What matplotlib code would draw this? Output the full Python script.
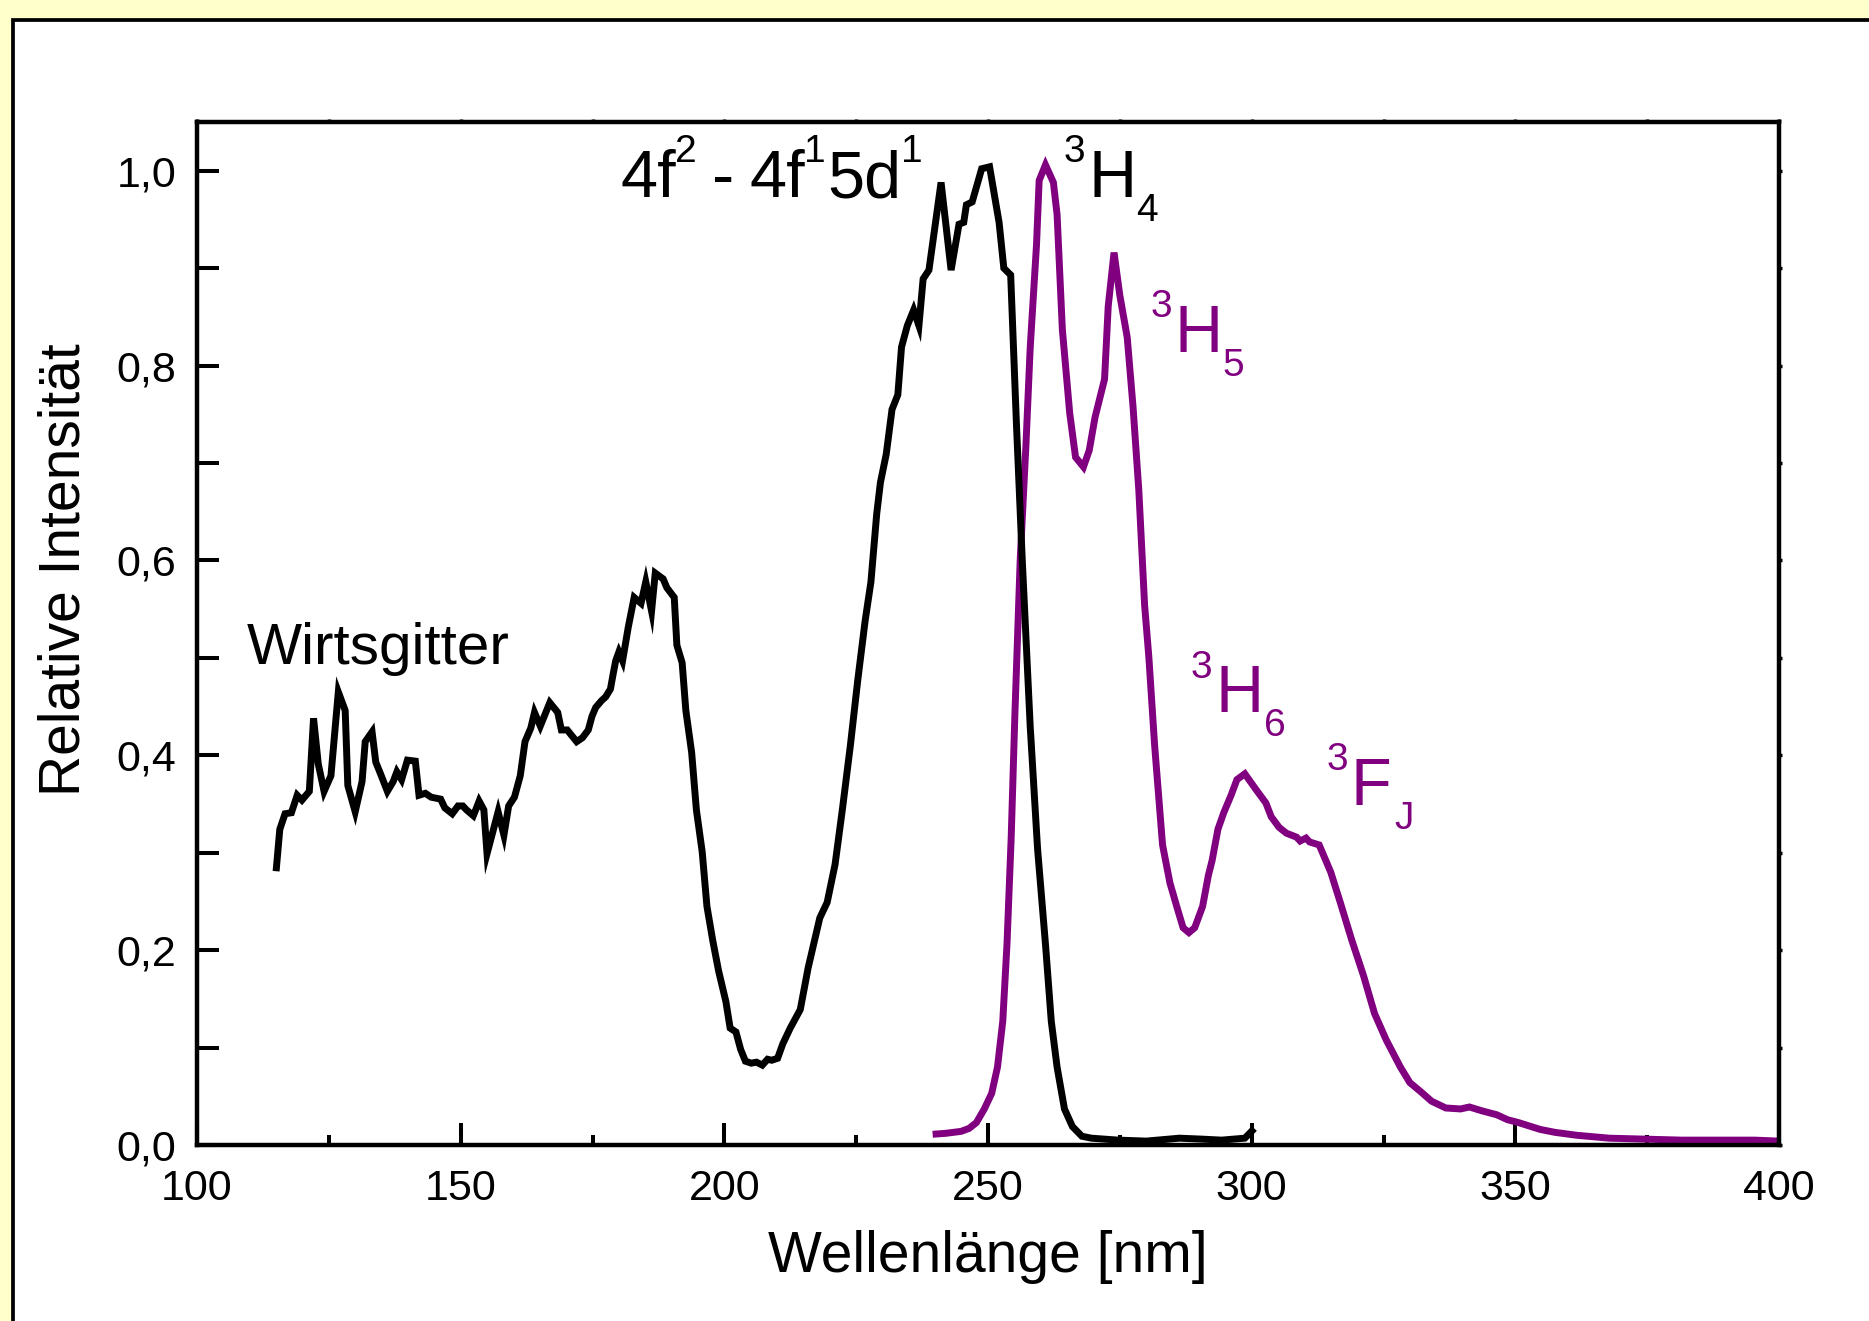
import matplotlib
matplotlib.use("Agg")
import matplotlib.pyplot as plt
from matplotlib import transforms as mtransforms
from matplotlib.patches import Rectangle
from matplotlib.ticker import FixedLocator, FuncFormatter

plt.rcParams['font.family'] = ['Liberation Sans', 'DejaVu Sans']

# ---------------- data ----------------
black_nm = [115.0, 115.7, 116.7, 117.9, 119.0, 119.9, 121.3, 122.1, 123.0, 124.1,
            125.4, 126.8, 128.1, 128.6, 130.0, 131.3, 131.9, 133.2, 133.9, 134.8,
            136.1, 137.2, 137.9, 138.8, 139.9, 141.4, 142.1, 143.3, 144.4, 146.2,
            147.0, 148.4, 149.5, 150.4, 151.1, 152.4, 153.0, 153.5, 154.4, 155.0,
            156.8, 157.1, 158.2, 159.1, 160.2, 161.3, 162.2, 163.3, 164.0, 165.1,
            166.9, 168.4, 169.1, 170.2, 172.0, 173.1, 174.2, 174.9, 175.6, 176.7,
            177.5, 178.4, 178.9, 179.4, 180.0, 180.7, 181.8, 182.9, 184.2, 185.1,
            186.2, 186.9, 188.4, 189.1, 190.5, 191.0, 192.0, 192.7, 193.8, 194.7,
            195.8, 196.7, 197.8, 198.9, 200.3, 201.1, 202.2, 203.1, 204.0, 205.1,
            206.1, 207.2, 208.2, 209.0, 210.1, 211.1, 212.5, 214.4, 215.9, 218.1,
            219.5, 221.0, 222.4, 223.9, 225.3, 226.7, 227.8, 228.9, 229.6, 230.7,
            231.8, 232.9, 233.6, 234.7, 235.9, 236.9, 237.7, 238.8, 241.1, 243.0,
            244.5, 245.4, 245.9, 247.0, 248.8, 250.3, 252.1, 253.0, 254.3, 255.4,
            256.5, 258.0, 259.4, 260.9, 262.0, 263.1, 264.5, 266.0, 267.8, 269.6,
            274.7, 280.0, 286.3, 290.7, 294.3, 298.7, 299.8, 300.5]
black_int = [0.281, 0.324, 0.340, 0.341, 0.359, 0.354, 0.363, 0.438, 0.391, 0.363,
             0.379, 0.465, 0.446, 0.369, 0.342, 0.373, 0.414, 0.424, 0.393, 0.381,
             0.363, 0.373, 0.383, 0.375, 0.395, 0.394, 0.359, 0.361, 0.357, 0.355,
             0.346, 0.340, 0.348, 0.348, 0.344, 0.338, 0.346, 0.353, 0.344, 0.299,
             0.336, 0.342, 0.318, 0.348, 0.357, 0.379, 0.414, 0.428, 0.444, 0.430,
             0.454, 0.444, 0.426, 0.426, 0.414, 0.418, 0.426, 0.440, 0.449, 0.456,
             0.460, 0.468, 0.483, 0.497, 0.506, 0.497, 0.532, 0.562, 0.556, 0.578,
             0.548, 0.587, 0.581, 0.572, 0.562, 0.513, 0.495, 0.446, 0.403, 0.344,
             0.301, 0.245, 0.210, 0.179, 0.147, 0.120, 0.116, 0.098, 0.086, 0.084,
             0.085, 0.082, 0.088, 0.087, 0.089, 0.104, 0.120, 0.139, 0.182, 0.233,
             0.249, 0.288, 0.345, 0.410, 0.477, 0.538, 0.578, 0.648, 0.680, 0.709,
             0.755, 0.770, 0.819, 0.841, 0.857, 0.841, 0.889, 0.898, 0.988, 0.898,
             0.945, 0.947, 0.965, 0.968, 1.002, 1.004, 0.947, 0.900, 0.893, 0.739,
             0.600, 0.430, 0.304, 0.206, 0.127, 0.080, 0.037, 0.019, 0.009, 0.007,
             0.005, 0.004, 0.007, 0.006, 0.005, 0.007, 0.013, 0.017]

purple_nm = [239.5, 242.0, 244.9, 246.4, 247.8, 249.3, 250.7, 251.8, 252.8, 253.6,
             254.4, 255.1, 256.1, 257.2, 258.0, 259.2, 259.7, 260.9, 262.4, 263.1,
             264.1, 265.5, 266.6, 268.1, 269.2, 270.3, 272.1, 272.8, 273.9, 275.0,
             276.4, 277.5, 278.6, 279.7, 280.5, 281.6, 283.1, 284.5, 286.0, 287.0,
             288.1, 289.2, 290.7, 291.8, 292.5, 293.6, 294.7, 296.1, 297.2, 298.7,
             300.8, 302.7, 303.7, 305.2, 306.6, 308.5, 309.2, 310.3, 311.0, 312.8,
             315.0, 316.8, 319.0, 321.2, 323.3, 325.5, 328.2, 330.0, 332.0, 334.1,
             336.8, 339.6, 341.3, 343.7, 346.5, 348.5, 350.6, 354.7, 357.5, 361.6,
             367.8, 374.7, 381.6, 388.5, 395.4, 400.0]
purple_int = [0.011, 0.012, 0.014, 0.017, 0.023, 0.037, 0.053, 0.080, 0.127, 0.206,
              0.316, 0.442, 0.600, 0.719, 0.818, 0.924, 0.990, 1.006, 0.988, 0.955,
              0.837, 0.751, 0.706, 0.696, 0.713, 0.747, 0.786, 0.861, 0.916, 0.872,
              0.829, 0.758, 0.672, 0.554, 0.501, 0.410, 0.308, 0.269, 0.241, 0.223,
              0.218, 0.223, 0.245, 0.277, 0.292, 0.324, 0.341, 0.359, 0.375, 0.381,
              0.365, 0.351, 0.337, 0.326, 0.320, 0.316, 0.312, 0.315, 0.311, 0.308,
              0.280, 0.249, 0.210, 0.174, 0.135, 0.108, 0.080, 0.064, 0.055, 0.045,
              0.038, 0.037, 0.039, 0.035, 0.031, 0.026, 0.023, 0.016, 0.013, 0.010,
              0.007, 0.006, 0.005, 0.005, 0.005, 0.004]

x_major = [100, 150, 200, 250, 300, 350, 400]
x_minor = [125, 175, 225, 275, 325, 375]
y_major = [0.0, 0.2, 0.4, 0.6, 0.8, 1.0]
y_minor = [0.1, 0.3, 0.5, 0.7, 0.9]

PURPLE = '#800080'
W, H = 1869, 1321

# ---------------- figure ----------------
fig = plt.figure(figsize=(W / 100, H / 100), dpi=100, facecolor='#FFFFCC')
frame = Rectangle((12.7 / W, -0.05), 1.2, (H - 20) / H + 0.05,
                  transform=fig.transFigure, facecolor='white',
                  edgecolor='black', linewidth=2.7, zorder=-5)
fig.add_artist(frame)

ax = fig.add_axes([197 / W, 1 - 1145 / H, (1779 - 197) / W, (1145 - 122) / H])
ax.set_facecolor('white')

ax.plot(black_nm, black_int, color='black', lw=5.0,
        solid_joinstyle='miter', solid_capstyle='butt', zorder=3)
ax.plot(purple_nm, purple_int, color=PURPLE, lw=5.0,
        solid_joinstyle='miter', solid_capstyle='butt', zorder=2)

ax.set_xlim(100, 400)
ax.set_ylim(0, 1.05)

for sp in ax.spines.values():
    sp.set_linewidth(3.2)

ax.xaxis.set_major_locator(FixedLocator(x_major))
ax.xaxis.set_minor_locator(FixedLocator(x_minor))
ax.yaxis.set_major_locator(FixedLocator(y_major))
ax.yaxis.set_minor_locator(FixedLocator(y_minor))
ax.xaxis.set_major_formatter(FuncFormatter(lambda v, p: f"{int(round(v))}"))
ax.yaxis.set_major_formatter(FuncFormatter(lambda v, p: f"{v:.1f}".replace('.', ',')))

ax.tick_params(axis='both', which='both', direction='in', width=2.9,
               top=False, right=False, labelsize=31)
ax.tick_params(axis='x', which='major', length=16, pad=17)
ax.tick_params(axis='x', which='minor', length=7)
ax.tick_params(axis='y', which='major', length=16, pad=15)
ax.tick_params(axis='y', which='minor', length=16)

# tiny ticks on top and right spines
secx = ax.secondary_xaxis('top')
secx.xaxis.set_major_locator(FixedLocator(x_major + x_minor))
secx.tick_params(direction='out', length=2, width=2.5, labeltop=False)
secx.spines['top'].set_visible(False)
secy = ax.secondary_yaxis('right')
secy.yaxis.set_major_locator(FixedLocator(y_major + y_minor))
secy.tick_params(direction='out', length=2, width=2.5, labelright=False)
secy.spines['right'].set_visible(False)

ax.set_xlabel('Wellenlänge [nm]', fontsize=41)
ax.xaxis.label.set_va('baseline')
ax.xaxis.set_label_coords(0.5, (1145 - 1272) / (1145 - 122))
ax.set_ylabel('Relative Intensität', fontsize=41)
ax.yaxis.label.set_va('center')
ax.yaxis.set_label_coords((64 - 197) / (1779 - 197), (1145 - 570) / (1145 - 122))

# ---------------- annotations ----------------
renderer = fig.canvas.get_renderer()


def rich(x, y, parts, color, base=48, small=28, up=25, down=17):
    dx = 0.0
    for txt, kind, gap in parts:
        dx += gap
        if kind == 'n':
            size, dy = base, 0
        elif kind == 'sup':
            size, dy = small, up
        else:
            size, dy = small, -down
        tr = mtransforms.offset_copy(ax.transData, fig=fig, x=dx, y=dy, units='points')
        t = ax.text(x, y, txt, transform=tr, fontsize=size, color=color,
                    ha='left', va='baseline', zorder=5)
        dx += t.get_window_extent(renderer=renderer).width * 72 / fig.dpi


ax.text(109.5, 0.494, 'Wirtsgitter', fontsize=42, color='black',
        ha='left', va='baseline')

rich(180.4, 0.973, [('4f', 'n', 0), ('2', 'sup', -1), ('-', 'n', 11),
                    ('4f', 'n', 11), ('1', 'sup', -1), ('5d', 'n', 1), ('1', 'sup', 0)],
     'black')
rich(264.4, 0.973, [('3', 'sup', 0), ('H', 'n', 2), ('4', 'sub', 0)], 'black')
rich(280.8, 0.814, [('3', 'sup', 0), ('H', 'n', 2), ('5', 'sub', 0)], PURPLE)
rich(288.5, 0.444, [('3', 'sup', 0), ('H', 'n', 2), ('6', 'sub', 0)], PURPLE)
rich(314.2, 0.349, [('3', 'sup', 0), ('F', 'n', 2), ('J', 'sub', 2)], PURPLE)

fig.savefig('out.png', dpi=100, facecolor=fig.get_facecolor())
